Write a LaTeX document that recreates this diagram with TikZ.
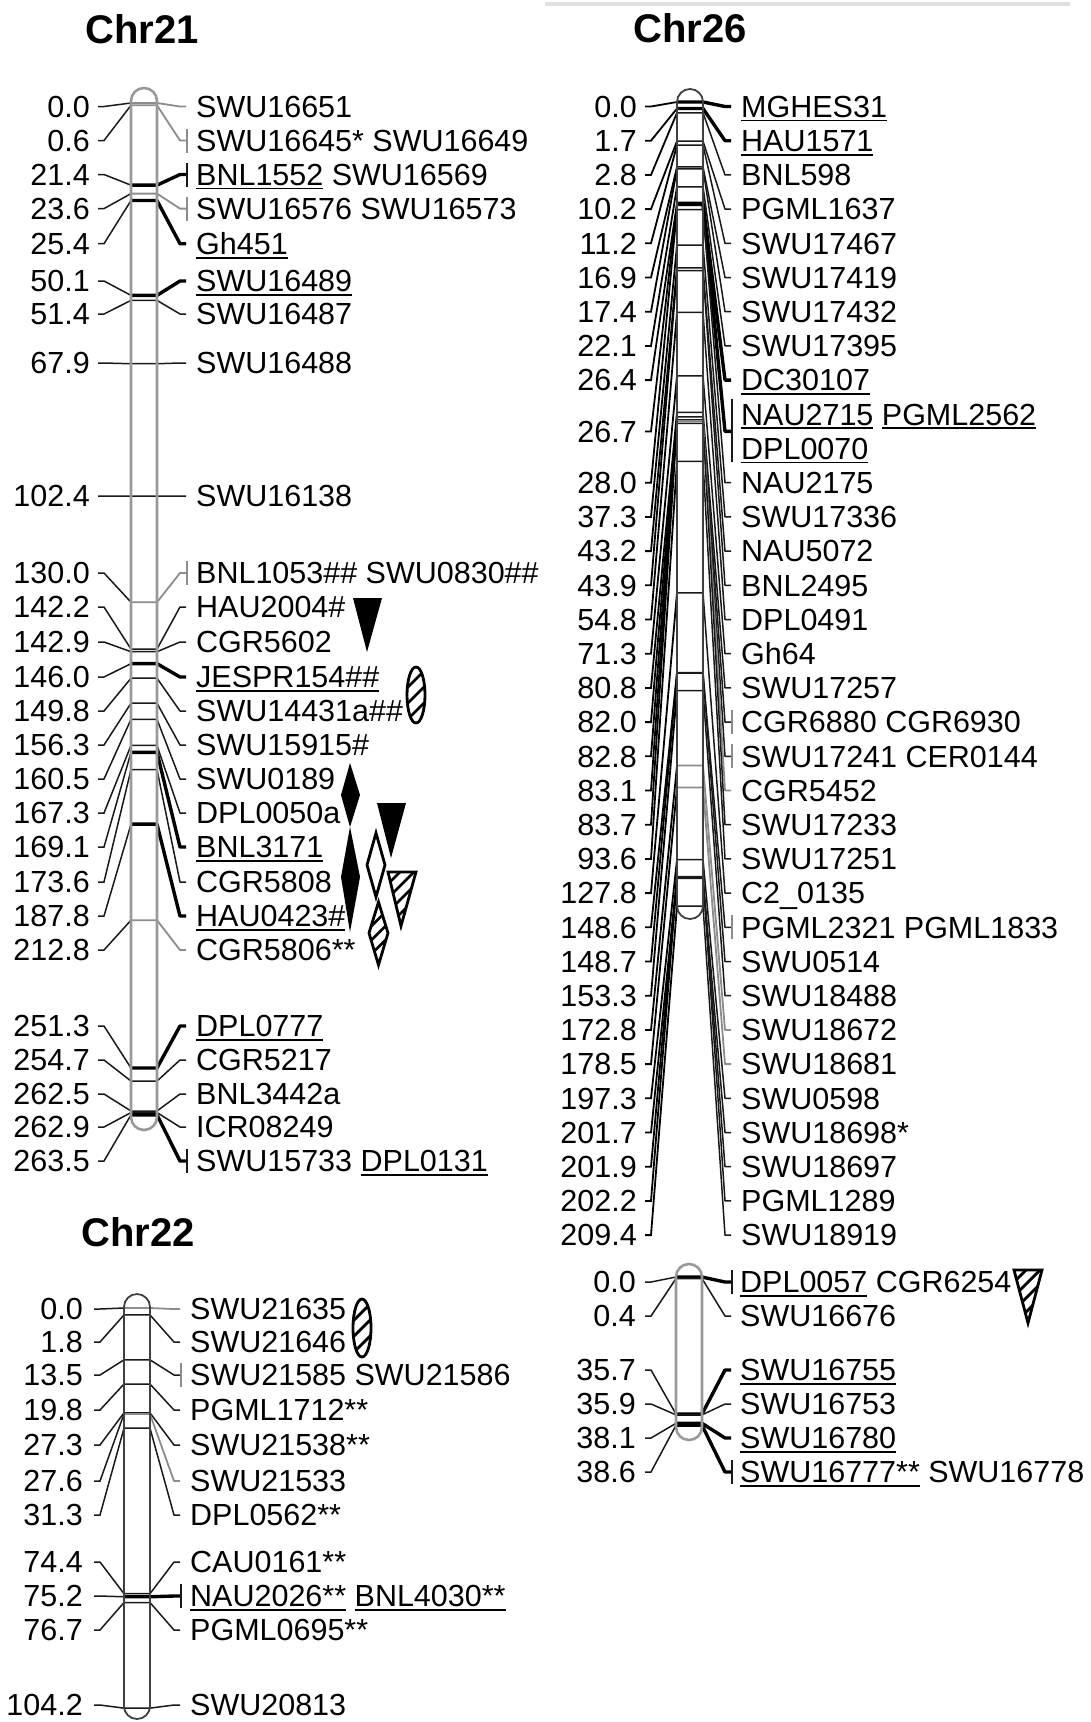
\documentclass[tikz,border=0pt]{standalone}
\usepackage{fontspec}
\setmainfont{Liberation Sans}
\newcommand\ulw[1]{\setbox0\hbox{#1}\rlap{\rule[-4pt]{\wd0}{1.8pt}}\box0\relax}
\tikzset{
  numtxt/.style={anchor=base east, inner sep=0pt, font=\fontsize{30.5}{31}\selectfont},
  lbltxt/.style={anchor=base west, inner sep=0pt, font=\fontsize{30.5}{31}\selectfont},
  ttl/.style={anchor=base, inner sep=0pt, font=\fontsize{40}{42}\selectfont\bfseries},
  thn/.style={draw=black!90, line width=1.5pt},
  gry/.style={draw=black!45, line width=1.8pt},
  thk/.style={draw=black, line width=3.4pt},
  cnl/.style={draw=black!90, line width=1.5pt},
  barlight/.style={draw=black!40, line width=2.6pt, rounded corners=13pt},
  bardark/.style={draw=black!75, line width=1.8pt, rounded corners=13pt},
  symb/.style={line width=2.8pt, line join=miter},
}
% marker row: id, row y, cM, label, style
\newcommand\mk[5]{%
  \pgfmathsetmacro\by{\Yo+3.84*#3}%
  \coordinate (#1l) at (\LX,#2);
  \coordinate (#1m) at ({\LX+6},#2);
  \coordinate (#1a) at (\BL,\by);
  \coordinate (#1b) at (\BR,\by);
  \coordinate (#1n) at ({\RX-6},#2);
  \coordinate (#1r) at (\RX,#2);
  \node[numtxt] (#1num) at (\NX,{#2+10.8}) {#3};
  \node[lbltxt] (#1lab) at (\TX,{#2+10.8}) {#4};
  \draw[cnl] (#1l) -- (#1m) -- (#1a);
  \draw[#5, line join=round] (#1a) -- (#1b) -- (#1n) -- (#1r);
}
\newcommand\tk[3]{%
  \coordinate (#1t1) at ({\RX+1},{#2-12});
  \coordinate (#1t2) at ({\RX+1},{#2+12});
  \draw[#3, line width=2pt] (#1t1) -- (#1t2);
}
\newcommand\hatch[4]{%
  \begin{scope}
    \clip #4;
    \foreach \k in {-6,...,6}{\draw[line width=2.8pt] ({#1+\k*#3-40},{#2+40}) -- ({#1+\k*#3+40},{#2-40});}
  \end{scope}
  \draw[symb] #4;
}
\begin{document}
\begin{tikzpicture}[x=1pt,y=-1pt]
\useasboundingbox (0,0) rectangle (1090,1722);
\draw[black!12, line width=4pt] (545,4) -- (1070,4);

% ---------------- Chr21 ----------------
\node[ttl] (t21) at (142,43) {Chr21};
\def\BL{131}\def\BR{157}\def\NX{90}\def\LX{98}\def\RX{186}\def\TX{196}\def\Yo{103}
\mk{a1}{106.5}{0.0}{SWU16651}{gry}
\mk{a2}{140.5}{0.6}{SWU16645* SWU16649}{gry}\tk{a2}{140.5}{gry}
\mk{a3}{174.5}{21.4}{\ulw{BNL1552} SWU16569}{thk}\tk{a3}{174.5}{thn}
\mk{a4}{208.6}{23.6}{SWU16576 SWU16573}{gry}\tk{a4}{208.6}{gry}
\mk{a5}{243.7}{25.4}{\ulw{Gh451}}{thk}
\mk{a6}{281}{50.1}{\ulw{SWU16489}}{thk}
\mk{a7}{314}{51.4}{SWU16487}{thn}
\mk{a8}{363}{67.9}{SWU16488}{thn}
\mk{a9}{496}{102.4}{SWU16138}{thn}
\mk{a10}{573}{130.0}{BNL1053\#\# SWU0830\#\#}{gry}\tk{a10}{573}{gry}
\mk{a11}{607}{142.2}{HAU2004\#}{thn}
\mk{a12}{642}{142.9}{CGR5602}{thn}
\mk{a13}{677}{146.0}{\ulw{JESPR154\#\#}}{thk}
\mk{a14}{711}{149.8}{SWU14431a\#\#}{thn}
\mk{a15}{745}{156.3}{SWU15915\#}{thn}
\mk{a16}{779}{160.5}{SWU0189}{thn}
\mk{a17}{813}{167.3}{DPL0050a}{thn}
\mk{a18}{847}{169.1}{\ulw{BNL3171}}{thk}
\mk{a19}{882}{173.6}{CGR5808}{thn}
\mk{a20}{916}{187.8}{\ulw{HAU0423\#}}{thk}
\mk{a21}{950}{212.8}{CGR5806**}{gry}
\mk{a22}{1026}{251.3}{\ulw{DPL0777}}{thk}
\mk{a23}{1060}{254.7}{CGR5217}{thn}
\mk{a24}{1094}{262.5}{BNL3442a}{thn}
\mk{a25}{1127}{262.9}{ICR08249}{thn}
\mk{a26}{1161}{263.5}{SWU15733 \ulw{DPL0131}}{thk}\tk{a26}{1161}{thn}
\draw[barlight] (131,88) rectangle (157,1130);

% QTL symbols Chr21
\fill (353,598) -- (382,598) -- (367,652) -- cycle;
\hatch{416}{695}{16}{(416,695) ellipse [x radius=9pt, y radius=28pt]}
\fill (350,763) -- (360,795) -- (350,827) -- (341,795) -- cycle;
\fill (350,827) -- (360,877) -- (350,932) -- (341,877) -- cycle;
\fill (377,803) -- (406,803) -- (391,858) -- cycle;
\draw[symb, fill=white] (376,833) -- (385,865) -- (376,897) -- (367,865) -- cycle;
\hatch{401}{899}{14}{(388,872) -- (416,872) -- (401,926) -- cycle}
\hatch{378.5}{933}{14}{(378.5,902) -- (388,933) -- (378.5,965) -- (369,933) -- cycle}

% ---------------- Chr22 ----------------
\node[ttl] (t22) at (138,1246) {Chr22};
\def\BL{124}\def\BR{150}\def\NX{83}\def\LX{94}\def\RX{180}\def\TX{190}\def\Yo{1308}
\mk{b1}{1309}{0.0}{SWU21635}{gry}
\mk{b2}{1342}{1.8}{SWU21646}{thn}
\mk{b3}{1375}{13.5}{SWU21585 SWU21586}{thn}\tk{b3}{1375}{gry}
\mk{b4}{1410}{19.8}{PGML1712**}{thn}
\mk{b5}{1445}{27.3}{SWU21538**}{thn}
\mk{b6}{1481}{27.6}{SWU21533}{gry}
\mk{b7}{1515}{31.3}{DPL0562**}{thn}
\mk{b8}{1562}{74.4}{CAU0161**}{thn}
\mk{b9}{1596}{75.2}{\ulw{NAU2026**} \ulw{BNL4030**}}{thk}\tk{b9}{1596}{thn}
\mk{b10}{1630}{76.7}{PGML0695**}{thn}
\mk{b11}{1705}{104.2}{SWU20813}{thn}
\draw[bardark] (124,1294) rectangle (150,1719);
\hatch{362}{1328}{16}{(362,1328) ellipse [x radius=9pt, y radius=29pt]}

% ---------------- Chr26 (upper) ----------------
\node[ttl] (t26) at (690,42) {Chr26};
\tikzset{cnl/.style={draw=black, line width=1.8pt}}
\def\BL{677}\def\BR{703}\def\NX{637}\def\LX{645}\def\RX{731}\def\TX{741}\def\Yo{102}
\mk{c0}{106.5}{0.0}{\ulw{MGHES31}}{thk}
\mk{c1}{140.7}{1.7}{\ulw{HAU1571}}{thk}
\mk{c2}{174.9}{2.8}{BNL598}{thn}
\mk{c3}{209.1}{10.2}{PGML1637}{thn}
\mk{c4}{243.3}{11.2}{SWU17467}{thn}
\mk{c5}{277.5}{16.9}{SWU17419}{thn}
\mk{c6}{311.7}{17.4}{SWU17432}{thn}
\mk{c7}{345.9}{22.1}{SWU17395}{thn}
\mk{c8}{380.1}{26.4}{\ulw{DC30107}}{thk}
\mk{c9}{431.4}{26.7}{}{thk}
\node[lbltxt] (c9top) at (\TX,425.1) {\ulw{NAU2715} \ulw{PGML2562}};
\node[lbltxt] (c9bot) at (\TX,459.3) {\ulw{DPL0070}};
\coordinate (c9t1) at (732,399);
\coordinate (c9t2) at (732,462);
\draw[thn, line width=2pt] (c9t1) -- (c9t2);
\mk{c11}{482.7}{28.0}{NAU2175}{thn}
\mk{c12}{516.9}{37.3}{SWU17336}{thn}
\mk{c13}{551.1}{43.2}{NAU5072}{thn}
\mk{c14}{585.3}{43.9}{BNL2495}{thn}
\mk{c15}{619.5}{54.8}{DPL0491}{thn}
\mk{c16}{653.7}{71.3}{Gh64}{thn}
\mk{c17}{687.9}{80.8}{SWU17257}{thn}
\mk{c18}{722.1}{82.0}{CGR6880 CGR6930}{thn}\tk{c18}{722.1}{gry}
\mk{c19}{756.3}{82.8}{SWU17241 CER0144}{thn}\tk{c19}{756.3}{gry}
\mk{c20}{790.5}{83.1}{CGR5452}{gry}
\mk{c21}{824.7}{83.7}{SWU17233}{thn}
\mk{c22}{858.9}{93.6}{SWU17251}{thn}
\mk{c23}{893.1}{127.8}{C2\_0135}{thn}
\mk{c24}{927.3}{148.6}{PGML2321 PGML1833}{thn}\tk{c24}{927.3}{gry}
\mk{c25}{961.5}{148.7}{SWU0514}{thn}
\mk{c26}{995.7}{153.3}{SWU18488}{thn}
\mk{c27}{1029.9}{172.8}{SWU18672}{gry}
\mk{c28}{1064.1}{178.5}{SWU18681}{gry}
\mk{c29}{1098.3}{197.3}{SWU0598}{thn}
\mk{c30}{1132.5}{201.7}{SWU18698*}{thn}
\mk{c31}{1166.7}{201.9}{SWU18697}{thn}
\mk{c32}{1200.9}{202.2}{PGML1289}{thn}
\mk{c33}{1235.1}{209.4}{SWU18919}{thn}
\draw[bardark] (677,89) rectangle (703,919);

% ---------------- Chr26 (lower) ----------------
\tikzset{cnl/.style={draw=black!90, line width=1.5pt}}
\def\BL{676}\def\BR{702}\def\NX{636}\def\LX{645}\def\RX{731}\def\TX{740}\def\Yo{1277}
\mk{d1}{1282}{0.0}{\ulw{DPL0057} CGR6254}{thk}\tk{d1}{1282}{thn}
\mk{d2}{1316}{0.4}{SWU16676}{thn}
\mk{d3}{1370}{35.7}{\ulw{SWU16755}}{thk}
\mk{d4}{1404}{35.9}{SWU16753}{thn}
\mk{d5}{1438}{38.1}{\ulw{SWU16780}}{thk}
\mk{d6}{1472}{38.6}{\ulw{SWU16777**} SWU16778}{thk}\tk{d6}{1472}{thn}
\draw[barlight] (676,1264) rectangle (702,1440);
\hatch{1028}{1296}{14}{(1014,1270) -- (1042,1270) -- (1028,1323) -- cycle}
\end{tikzpicture}
\end{document}
